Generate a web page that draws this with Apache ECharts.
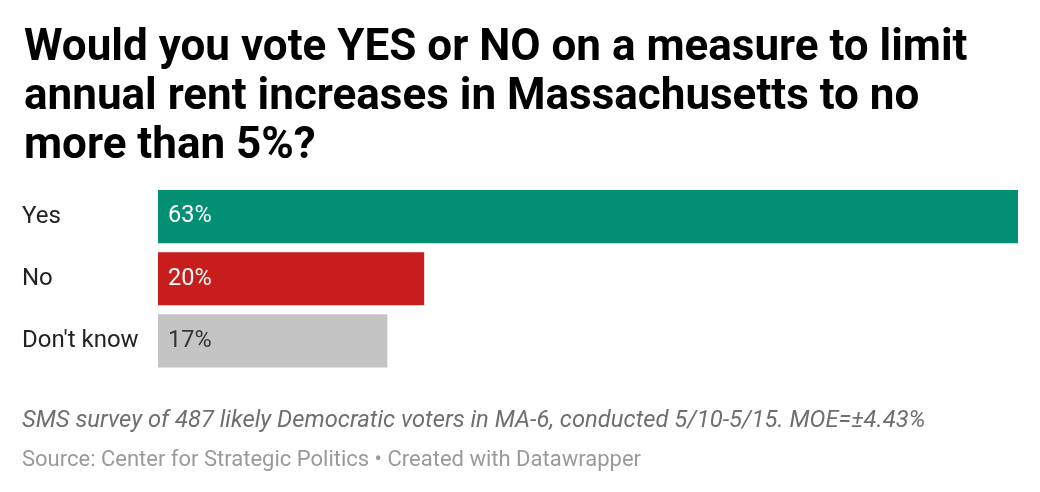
<!DOCTYPE html>
<html>
<head>
<meta charset="utf-8">
<script src="https://cdn.jsdelivr.net/npm/echarts@6/dist/echarts.min.js"></script>
<style>
  html, body { margin: 0; padding: 0; background: #fff; }
  #chart { width: 1040px; height: 492px; }
</style>
</head>
<body>
<div id="chart"></div>
<script>
'use strict';

var categories = ['Yes', 'No', "Don't know"];
var values = [63, 19.5, 16.8];
var valueLabels = ['63%', '20%', '17%'];
var barColors = ['#028f74', '#c71e1d', '#c4c4c4'];
var labelColors = ['#ffffff', '#ffffff', '#333333'];

var titleText = 'Would you vote YES or NO on a measure to limit\nannual rent increases in Massachusetts to no\nmore than 5%?';
var noteText = 'SMS survey of 487 likely Democratic voters in MA-6, conducted 5/10-5/15. MOE=\u00b14.43%';
var sourceText = 'Source: Center for Strategic Politics \u2022 Created with Datawrapper';

var chart = echarts.init(document.getElementById('chart'));

var barData = values.map(function(v, i) {
    return {
        value: v,
        itemStyle: { color: barColors[i] },
        label: { color: labelColors[i] }
    };
});

chart.setOption({
    animation: false,
    backgroundColor: '#ffffff',
    textStyle: { fontFamily: 'Roboto' },
    title: {
        text: titleText,
        left: 19,
        top: 19,
        textStyle: {
            fontFamily: 'Roboto',
            fontWeight: 'bold',
            fontSize: 44,
            lineHeight: 49,
            color: '#000000'
        }
    },
    graphic: [
        {
            type: 'text',
            left: 22,
            top: 409,
            style: {
                text: noteText,
                font: 'italic 23.8px Roboto',
                fill: '#6f6f6f'
            }
        },
        {
            type: 'text',
            left: 22,
            top: 449,
            style: {
                text: sourceText,
                font: '22px Roboto',
                fill: '#9a9a9a'
            }
        }
    ],
    grid: {
        left: 158,
        right: 22,
        top: 185.5,
        bottom: 120,
        containLabel: false
    },
    xAxis: {
        type: 'value',
        min: 0,
        max: 'dataMax',
        show: false
    },
    yAxis: {
        type: 'category',
        data: categories,
        inverse: true,
        axisLine: { show: false },
        axisTick: { show: false },
        splitLine: { show: false },
        axisLabel: {
            align: 'left',
            margin: 136,
            fontFamily: 'Roboto',
            fontSize: 24,
            color: '#222222'
        }
    },
    series: [{
        type: 'bar',
        data: barData,
        barCategoryGap: '14.5%',
        label: {
            show: true,
            position: 'insideLeft',
            distance: 10,
            fontFamily: 'Roboto',
            fontSize: 23.5,
            formatter: function(p) { return valueLabels[p.dataIndex]; }
        }
    }]
});
</script>
</body>
</html>
